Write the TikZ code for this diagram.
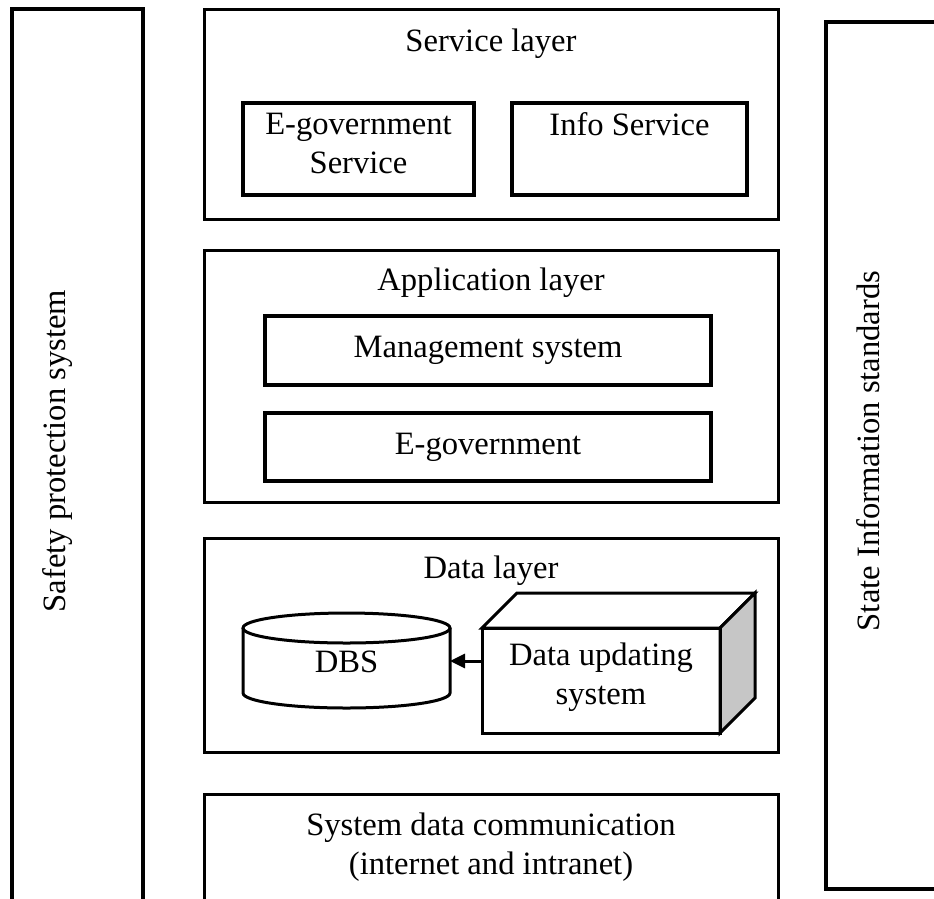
\documentclass[tikz,border=0pt]{standalone}
\usepackage{fontspec}
\setmainfont{Liberation Serif}
\usetikzlibrary{arrows.meta}
\begin{document}
\begin{tikzpicture}[x=1pt,y=-1pt,
  every node/.style={font=\fontsize{32.6}{39}\selectfont, inner sep=0pt, align=center},
  frame/.style={draw, line width=3pt},
  inbox/.style={draw, line width=3.5pt},
  flow/.style={line width=3pt, -{Triangle[length=15pt,width=14pt]}}]
\useasboundingbox (0,0) rectangle (934,898);
\clip (0,0) rectangle (934,898);

% side bars (cut by the page edges)
\draw[line width=4pt] (12,910) -- (12,9) -- (143,9) -- (143,910);
\node[rotate=90] (safety) at (58,451) {Safety protection system};
\draw[line width=4pt] (945,22) -- (826,22) -- (826,889) -- (945,889);
\node[rotate=90] (state) at (868,451) {State Information standards};

% service layer
\node[frame, minimum width=574pt, minimum height=210pt] (service) at (491,114) {};
\node (servicet) at (491,44) {Service layer};
\node[inbox, minimum width=231pt, minimum height=92pt] (egovs) at (358.5,149) {};
\node[anchor=north] (egovst) at (358.5,113) {E-government\\Service};
\node[inbox, minimum width=235pt, minimum height=92pt] (info) at (629.5,149) {};
\node[anchor=north] (infot) at (629.5,112) {Info Service};

% application layer
\node[frame, minimum width=574pt, minimum height=252pt] (app) at (491,376) {};
\node (appt) at (491,283) {Application layer};
\node[inbox, minimum width=446pt, minimum height=69pt] (mgmt) at (488,350.5) {Management system};
\node[inbox, minimum width=446pt, minimum height=68pt] (egov) at (488,447) {E-government};

% data layer
\node[frame, minimum width=574pt, minimum height=214pt] (data) at (491,645) {};
\node (datat) at (491,571) {Data layer};

% database cylinder
\draw[line width=3pt, fill=white]
  (243,628) -- (243,693) arc[start angle=180, end angle=360, x radius=103.5pt, y radius=15pt]
  -- (450,628);
\draw[line width=3pt] (346.5,628) ellipse[x radius=103.5pt, y radius=15pt];
\node (dbs) at (346.5,662) {DBS};
\coordinate (dbsr) at (450,661);

% data updating block
\draw[line width=3pt, fill=white] (482,628) -- (517,593) -- (755,593) -- (720,628) -- cycle;
\draw[line width=3pt, fill=gray!45] (720,628) -- (755,593) -- (755,698) -- (720,733) -- cycle;
\node[inbox, line width=3pt, minimum width=238pt, minimum height=105pt] (upd) at (601,680.5) {};
\node (updt) at (601,677) {Data updating\\system};
\draw[flow] (upd.west |- dbsr) -- (dbsr);

% communication layer
\draw[line width=3pt] (204,910) -- (204,794) -- (778,794) -- (778,910);
\node (comm) at (491,847) {System data communication\\(internet and intranet)};
\end{tikzpicture}
\end{document}
